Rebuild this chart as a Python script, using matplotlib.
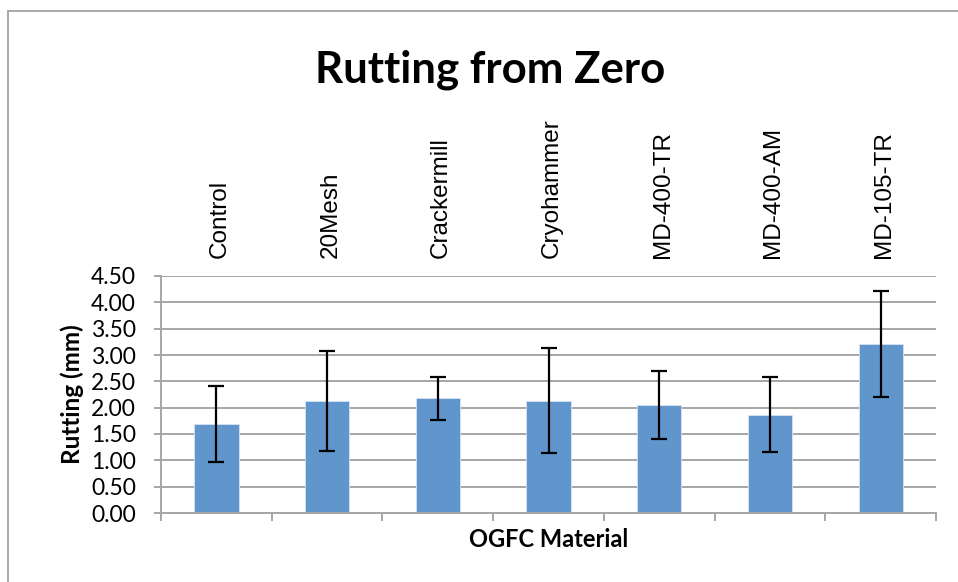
import matplotlib
matplotlib.use("Agg")
import matplotlib.pyplot as plt
import numpy as np
from matplotlib.patches import Rectangle

# --- data ---
categories = ["Control", "20Mesh", "Crackermill", "Cryohammer",
              "MD-400-TR", "MD-400-AM", "MD-105-TR"]
rutting = [1.69, 2.13, 2.18, 2.13, 2.05, 1.87, 3.21]
err = [0.72, 0.95, 0.41, 1.00, 0.65, 0.71, 1.01]
yticks = [0.0, 0.5, 1.0, 1.5, 2.0, 2.5, 3.0, 3.5, 4.0, 4.5]

BAR = '#6096cb'
GRID = '#a6a6a6'
CAL = 'Lato'        # stand-in for Calibri
ARIAL = 'Liberation Sans'

fig = plt.figure(figsize=(9.58, 5.82), dpi=100, facecolor='white')

# outer chart border (runs off right/bottom like the original)
fig.patches.append(Rectangle((8/958, -0.1), 1.2, 1 - 10.5/582 + 0.1,
                             transform=fig.transFigure, fill=False,
                             edgecolor='#9a9a9a', lw=1.2))

ax = fig.add_axes([161/958, 1 - 513/582, (936 - 161)/958, (513 - 276)/582])

x = np.arange(len(categories))
ax.bar(x, rutting, width=0.4, color=BAR, edgecolor='#d6e3f1', lw=0.6, zorder=2)
ax.errorbar(x, rutting, yerr=err, fmt='none', ecolor='black', elinewidth=1.6,
            capsize=6, capthick=1.6, zorder=3)

ax.set_xlim(-0.5, len(categories) - 0.5)
ax.set_ylim(0, 4.5)
ax.set_yticks(yticks)
ax.set_yticklabels([f"{v:.2f}" for v in yticks], fontfamily=CAL, fontsize=16.5)
ax.yaxis.grid(True, color=GRID, lw=1.4, zorder=0)
ax.set_axisbelow(True)

# category boundaries as ticks
ax.set_xticks(np.arange(len(categories) + 1) - 0.5)
ax.set_xticklabels([])
ax.tick_params(axis='x', length=6, width=1.4, color=GRID, direction='out')
ax.tick_params(axis='y', length=5, width=1.4, color=GRID, pad=13)

for s in ['top', 'right']:
    ax.spines[s].set_visible(False)
for s in ['left', 'bottom']:
    ax.spines[s].set_color(GRID)
    ax.spines[s].set_linewidth(1.4)

# rotated category names above the plot
for xi, name in zip(x, categories):
    ax.text(xi + 0.03, 1.0 + 18/237, name, transform=ax.get_xaxis_transform(),
            rotation=90, ha='center', va='bottom', fontfamily=ARIAL,
            fontsize=17.5)

ax.set_xlabel("OGFC Material", fontfamily=CAL, fontweight='bold',
              fontsize=17, labelpad=1)
ax.set_ylabel("Rutting (mm)", fontfamily=CAL, fontweight='bold',
              fontsize=17.5, labelpad=5)

fig.text(490/958, 1 - 70/582, "Rutting from Zero", ha='center', va='center',
         fontfamily=CAL, fontweight='bold', fontsize=31.5)

fig.savefig("out.png", dpi=100, facecolor='white')
